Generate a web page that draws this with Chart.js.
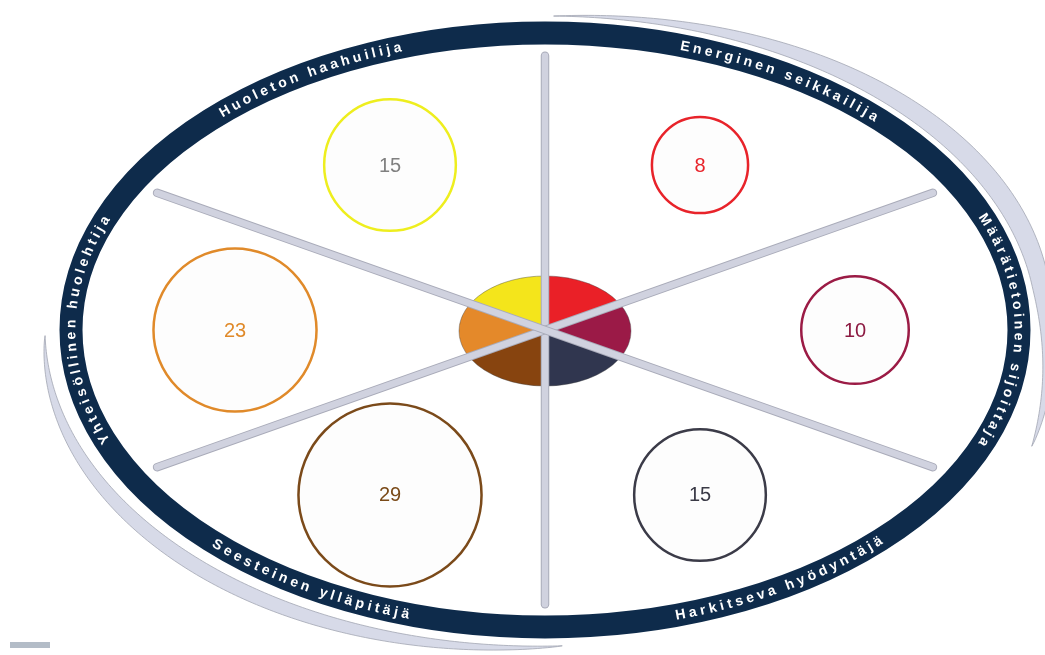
<!DOCTYPE html>
<html>
<head>
<meta charset="utf-8">
<script src="https://cdn.jsdelivr.net/npm/chart.js@4.4.1/dist/chart.umd.min.js"></script>
<style>
  html, body { margin: 0; padding: 0; background: #ffffff; }
  #wrap { width: 1045px; height: 655px; }
</style>
</head>
<body>
<div id="wrap"><canvas id="profiiliKaavio" width="1045" height="655"></canvas></div>
<script>
// Profiilit myötäpäivään, alkaen oikealta ylhäältä
var categories = ['Energinen seikkailija', 'Määrätietoinen sijoittaja', 'Harkitseva hyödyntäjä',
                  'Seesteinen ylläpitäjä', 'Yhteisöllinen huolehtija', 'Huoleton haahuilija'];
var values = [8, 10, 15, 29, 23, 15];

// Värit
var sliceColors = ['#ea2027', '#9b1a47', '#30364f', '#87440f', '#e4892a', '#f4e51b'];
var ringColors = ['#e8232a', '#9b1b45', '#3b3b48', '#7b4a1a', '#e08a2a', '#eeee1e'];
var labelColors = ['#e8232a', '#8c1a42', '#3a3a46', '#7a4a18', '#e08a2a', '#808080'];

// kulma kullekin profiilille (asteina, vastapäivään oikealta)
function angleOf(i) { return (60 - 60 * i) * Math.PI / 180; }

var bubbleData = categories.map(function (c, i) {
    return { x: Math.cos(angleOf(i)), y: Math.sin(angleOf(i)) };
});

// Koristeet: soikea rengas, tekstit, puolat ja keskipiirakka
var decor = {
    id: 'decor',
    beforeDatasetsDraw: function (chart) {
        var ctx = chart.ctx;
        var sx = chart.scales.x, sy = chart.scales.y;
        var cx = sx.getPixelForValue(0), cy = sy.getPixelForValue(0);
        var ux = sx.getPixelForValue(1) - cx, uy = cy - sy.getPixelForValue(1);

        // harmaat kaaret renkaan ulkopuolella
        function swoosh(t1, t2, gapFn, wmax, skew) {
            var n = 160, inner = [], outer = [];
            for (var k = 0; k <= n; k++) {
                var u = k / n;
                var td = t1 + (t2 - t1) * u;
                var t = td * Math.PI / 180;
                var g = gapFn(u, td);
                var w = wmax * Math.pow(Math.sin(Math.PI * Math.pow(u, skew)), 0.8);
                inner.push([cx + (486 + g) * Math.cos(t), cy - (308 + g) * Math.sin(t)]);
                outer.push([cx + (486 + g + w) * Math.cos(t), cy - (308 + g + w) * Math.sin(t)]);
            }
            ctx.beginPath();
            ctx.moveTo(inner[0][0], inner[0][1]);
            inner.forEach(function (p) { ctx.lineTo(p[0], p[1]); });
            outer.reverse().forEach(function (p) { ctx.lineTo(p[0], p[1]); });
            ctx.closePath();
            ctx.fillStyle = '#d7dae8';
            ctx.fill();
            ctx.strokeStyle = '#a2a6b2';
            ctx.lineWidth = 0.8;
            ctx.stroke();
        }
        swoosh(89, -20, function (u, td) {
            var e = Math.max(0, (8 - td) / 28);
            return 6 + 26 * Math.pow(e, 1.6);
        }, 20, 1.25);
        swoosh(181, 272, function (u) { return 14 - 6 * u; }, 15, 1);

        // rengas
        var RX = 474, RY = 297;
        ctx.save();
        ctx.beginPath();
        ctx.ellipse(cx, cy, RX, RY, 0, 0, Math.PI * 2);
        ctx.strokeStyle = '#0e2b4b';
        ctx.lineWidth = 23;
        ctx.stroke();
        ctx.restore();

        // kaarevat tekstit renkaaseen
        var N = 4000, t0 = -Math.PI / 2, cum = [0];
        function pt(t) { return [cx + RX * Math.cos(t), cy - RY * Math.sin(t)]; }
        var prev = pt(t0);
        for (var k = 1; k <= N; k++) {
            var p = pt(t0 + 2 * Math.PI * k / N);
            cum.push(cum[k - 1] + Math.hypot(p[0] - prev[0], p[1] - prev[1]));
            prev = p;
        }
        function sOf(t) {
            var f = (t - t0) / (2 * Math.PI) * N;
            var k = Math.floor(f);
            return cum[k] + (cum[k + 1] - cum[k]) * (f - k);
        }
        function tOf(s) {
            var lo = 0, hi = N;
            while (hi - lo > 1) {
                var m = (lo + hi) >> 1;
                if (cum[m] < s) lo = m; else hi = m;
            }
            var f = lo + (s - cum[lo]) / (cum[hi] - cum[lo] || 1);
            return t0 + 2 * Math.PI * f / N;
        }
        ctx.font = 'bold 14px "Liberation Sans", Arial, sans-serif';
        ctx.fillStyle = '#ffffff';
        ctx.textAlign = 'center';
        ctx.textBaseline = 'middle';
        var spacing = 3.6;
        categories.forEach(function (label, i) {
            var tm = angleOf(i);
            if (tm < t0) tm += 2 * Math.PI;
            var cw = Array.from(label).map(function (ch) { return ctx.measureText(ch).width; });
            var W = cw.reduce(function (a, b) { return a + b + spacing; }, 0) - spacing;
            var sm = sOf(tm);
            var clockwise = !(i === 2 || i === 3);
            var off = 0;
            Array.from(label).forEach(function (ch, j) {
                var s = clockwise ? sm + W / 2 - off - cw[j] / 2 : sm - W / 2 + off + cw[j] / 2;
                off += cw[j] + spacing;
                var t = tOf(s);
                var p = pt(t);
                var dx = -RX * Math.sin(t), dy = -RY * Math.cos(t);
                if (clockwise) { dx = -dx; dy = -dy; }
                ctx.save();
                ctx.translate(p[0], p[1]);
                ctx.rotate(Math.atan2(dy, dx));
                ctx.fillText(ch, 0, 0.5);
                ctx.restore();
            });
        });

        // keskipiirakka
        ctx.save();
        ctx.translate(cx, cy + 1);
        ctx.scale(86, 55);
        sliceColors.forEach(function (col, i) {
            var a1 = (-90 + 60 * i) * Math.PI / 180, a2 = (-30 + 60 * i) * Math.PI / 180;
            ctx.beginPath();
            ctx.moveTo(0, 0);
            ctx.arc(0, 0, 1, a1, a2);
            ctx.closePath();
            ctx.fillStyle = col;
            ctx.fill();
        });
        ctx.restore();
        ctx.beginPath();
        ctx.ellipse(cx, cy + 1, 86, 55, 0, 0, Math.PI * 2);
        ctx.strokeStyle = 'rgba(60,60,60,0.5)';
        ctx.lineWidth = 0.8;
        ctx.stroke();

        // puolat
        ctx.lineCap = 'round';
        for (var q = 0; q < 3; q++) {
            var a = (90 - 60 * q) * Math.PI / 180;
            var ex = 1.445 * ux * Math.cos(a), ey = 1.44 * uy * Math.sin(a);
            [['#a9abb9', 8.5], ['#d0d2df', 6.5]].forEach(function (st) {
                ctx.beginPath();
                ctx.moveTo(cx - ex, cy + ey);
                ctx.lineTo(cx + ex, cy - ey);
                ctx.strokeStyle = st[0];
                ctx.lineWidth = st[1];
                ctx.stroke();
            });
        }

        // pieni harmaa merkki vasemmassa alakulmassa
        ctx.fillStyle = '#b3bcc7';
        ctx.fillRect(10, 642, 40, 6);
    },
    afterDatasetsDraw: function (chart) {
        var ctx = chart.ctx;
        var meta = chart.getDatasetMeta(0);
        ctx.save();
        ctx.font = '20px "Liberation Sans", Arial, sans-serif';
        ctx.textAlign = 'center';
        ctx.textBaseline = 'middle';
        meta.data.forEach(function (el, i) {
            ctx.fillStyle = labelColors[i];
            ctx.fillText(String(values[i]), el.x, el.y + 1);
        });
        ctx.restore();
    }
};

var ctx = document.getElementById('profiiliKaavio').getContext('2d');
var chart = new Chart(ctx, {
    type: 'bubble',
    data: {
        labels: categories,
        datasets: [{
            label: 'Profiilit',
            data: bubbleData,
            radius: function (c) { return 17 * Math.sqrt(values[c.dataIndex]); },
            hoverRadius: 0,
            backgroundColor: '#fdfdfd',
            borderColor: ringColors,
            borderWidth: 2.5,
            clip: false
        }]
    },
    options: {
        responsive: false,
        animation: false,
        devicePixelRatio: 1,
        layout: { padding: 0, autoPadding: false },
        plugins: { legend: { display: false }, tooltip: { enabled: false } },
        scales: {
            x: { display: false, min: -545 / 310, max: 500 / 310 },
            y: { display: false, min: -325 / 190.5, max: 330 / 190.5 }
        }
    },
    plugins: [decor]
});
</script>
</body>
</html>
